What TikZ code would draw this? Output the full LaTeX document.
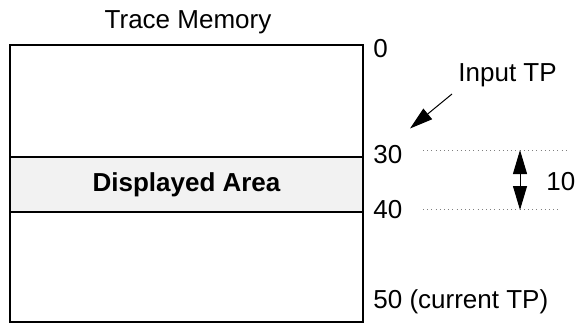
\documentclass[tikz,border=0pt]{standalone}
\usepackage{fontspec}
\setmainfont{Liberation Sans}
\usetikzlibrary{arrows.meta}
\begin{document}
\begin{tikzpicture}[x=0.5pt,y=-0.5pt,font=\fontsize{13}{15}\selectfont,
  frame/.style={line width=1pt},
  lbl/.style={anchor=west,inner sep=0pt},
  guide/.style={gray,line width=0.5pt,dash pattern=on 0.5pt off 1.6pt},
  ptr/.style={line width=0.5pt,-{Triangle[length=11.5pt,width=6.8pt]}},
  dbl/.style={line width=0.5pt,{Triangle[length=12pt,width=7pt]}-{Triangle[length=12pt,width=7pt]}}]
\useasboundingbox (0,0) rectangle (576,333);
% memory block
\fill[black!5] (10,157) rectangle (363,212);
\draw[frame] (10,45) rectangle (363,322);
\draw[frame] (10,157) -- (363,157);
\draw[frame] (10,212) -- (363,212);
\node[font=\fontsize{13}{15}\selectfont\bfseries] (disp) at (186.5,184.5) {Displayed Area};
\node (title) at (188,22) {Trace Memory};
% labels
\node[lbl] (l0) at (373,49) {0};
\node[lbl] (l30) at (373,155) {30};
\node[lbl] (l40) at (373,210) {40};
\node[lbl] (l50) at (373,302) {50 (current TP)};
\node[lbl] (inp) at (458,75) {Input TP};
\node[lbl] (ten) at (546,182) {10};
% input pointer
\coordinate (ia) at (452,94);
\coordinate (ib) at (410,128.5);
\draw[ptr] (ia) -- (ib);
% guides
\coordinate (g1a) at (423,150);
\coordinate (g1b) at (567,150);
\coordinate (g2a) at (423,209);
\coordinate (g2b) at (560,209);
\draw[guide] (g1a) -- (g1b);
\draw[guide] (g2a) -- (g2b);
\coordinate (d1) at (520,150);
\coordinate (d2) at (520,210);
\draw[dbl] (d1) -- (d2);
\end{tikzpicture}
\end{document}
